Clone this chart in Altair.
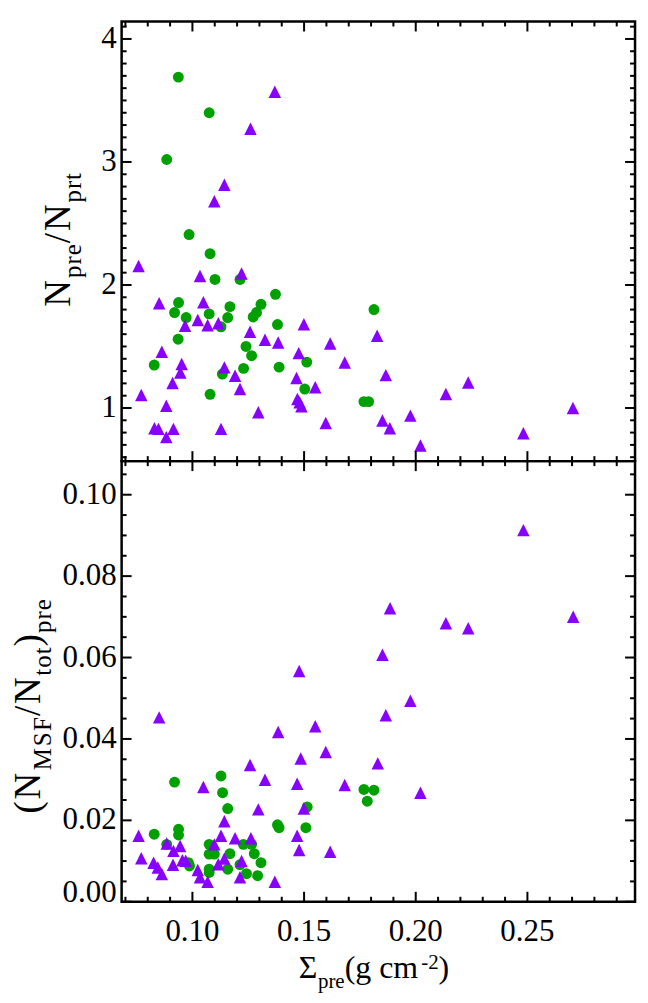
import altair as alt
import pandas as pd

FONT = "'Liberation Serif', 'Times New Roman', 'Nimbus Roman', 'DejaVu Serif', serif"
GREEN = "#00a000"
PURPLE = "#8800ff"

# ---------------- data ----------------
top_circle_x = [0.0937, 0.1075, 0.0885, 0.0985, 0.1079, 0.1101, 0.1213, 0.1372, 0.0938, 0.0920,
                0.0972, 0.1075, 0.1168, 0.1158, 0.1128, 0.1307, 0.1287, 0.1272, 0.1381, 0.0936,
                0.1240, 0.1265, 0.0829, 0.1134, 0.1229, 0.1388, 0.1512, 0.1079, 0.1503, 0.1768,
                0.1789, 0.1813]
top_circle_y = [3.69, 3.40, 3.02, 2.41, 2.254, 2.045, 2.045, 1.924, 1.857, 1.776,
                1.735, 1.765, 1.824, 1.735, 1.66, 1.843, 1.776, 1.74, 1.678, 1.559,
                1.50, 1.425, 1.349, 1.276, 1.322, 1.332, 1.373, 1.111, 1.154, 1.052,
                1.052, 1.80]

top_tri_x = [0.1369, 0.1260, 0.1143, 0.1098, 0.0759, 0.1034, 0.1220, 0.0851, 0.1049, 0.0967,
             0.1024, 0.1068, 0.1116, 0.1258, 0.1325, 0.1384, 0.1499, 0.1617, 0.1476, 0.0863,
             0.0952, 0.0946, 0.0911, 0.1143, 0.1191, 0.1213, 0.1682, 0.1466, 0.1550, 0.1470,
             0.1480, 0.1488, 0.0771, 0.0883, 0.1295, 0.0830, 0.0848, 0.0883, 0.0915, 0.1128,
             0.1597, 0.1827, 0.1866, 0.1851, 0.1884, 0.1976, 0.2021, 0.2135, 0.2235, 0.2482,
             0.2704]
top_tri_y = [3.57, 3.27, 2.815, 2.68, 2.154, 2.073, 2.094, 1.851, 1.86, 1.668,
             1.716, 1.673, 1.689, 1.619, 1.554, 1.532, 1.681, 1.524, 1.446, 1.457,
             1.357, 1.289, 1.203, 1.33, 1.262, 1.154, 1.37, 1.243, 1.168, 1.073,
             1.046, 1.014, 1.105, 1.019, 0.965, 0.835, 0.83, 0.763, 0.83, 0.83,
             0.878, 1.587, 1.267, 0.898, 0.835, 0.938, 0.695, 1.113, 1.208, 0.795,
             1.0]

bot_circle_x = [0.0920, 0.1128, 0.1135, 0.1158, 0.1381, 0.1388, 0.1508, 0.1514, 0.1768, 0.1813,
                0.1783, 0.0829, 0.0938, 0.0938, 0.0885, 0.0982, 0.0987, 0.1075, 0.1075, 0.1098,
                0.1075, 0.1075, 0.1168, 0.1158, 0.1228, 0.1265, 0.1277, 0.1213, 0.1242, 0.1292,
                0.1307]
bot_circle_y = [0.0294, 0.0309, 0.0268, 0.0229, 0.0189, 0.0182, 0.0182, 0.0233, 0.0276, 0.0274,
                0.0247, 0.0166, 0.0178, 0.0164, 0.0141, 0.0096, 0.0088, 0.0141, 0.0117, 0.0117,
                0.0080, 0.0072, 0.0118, 0.0080, 0.0141, 0.0141, 0.0118, 0.0091, 0.0069, 0.0064,
                0.0096]

bot_tri_x = [0.0851, 0.1384, 0.1550, 0.1485, 0.1597, 0.1258, 0.1325, 0.1469, 0.1682, 0.1049,
             0.1295, 0.1499, 0.1143, 0.1469, 0.1478, 0.1617, 0.0759, 0.0771, 0.0826, 0.0845,
             0.0863, 0.0885, 0.0915, 0.0945, 0.0913, 0.0955, 0.0970, 0.1024, 0.1034, 0.1068,
             0.1098, 0.1128, 0.1116, 0.1143, 0.1191, 0.1220, 0.1213, 0.1262, 0.1369, 0.1478,
             0.2482, 0.1885, 0.2705, 0.2135, 0.2235, 0.1851, 0.1976, 0.1866, 0.1830, 0.2021]
bot_tri_y = [0.0453, 0.0417, 0.0431, 0.0352, 0.0368, 0.0336, 0.0300, 0.0290, 0.0287, 0.0282,
             0.0227, 0.0229, 0.0198, 0.0162, 0.0127, 0.0123, 0.0162, 0.0107, 0.0096, 0.0084,
             0.0068, 0.0143, 0.0125, 0.0137, 0.0091, 0.0102, 0.0101, 0.0078, 0.0060, 0.0049,
             0.0141, 0.0162, 0.0092, 0.0106, 0.0156, 0.0100, 0.0060, 0.0156, 0.0049, 0.0567,
             0.0913, 0.0721, 0.0700, 0.0684, 0.0672, 0.0607, 0.0494, 0.0458, 0.0340, 0.0268]

# axis ranges, tick values and tick labels
X_DOMAIN = [0.0683, 0.2982]
TOP_Y_DOMAIN = [0.568, 4.142]
BOT_Y_DOMAIN = [0.0, 0.10825]
x_major = [0.10, 0.15, 0.20, 0.25]
x_labels = ["0.10", "0.15", "0.20", "0.25"]
x_minor = [v for v in [round(0.07 + 0.01 * i, 2) for i in range(23)] if v not in x_major]
top_y_major = [1, 2, 3, 4]
top_y_labels = ["1", "2", "3", "4"]
top_y_minor = [v for v in [round(0.6 + 0.1 * i, 1) for i in range(36)] if v not in top_y_major]
bot_y_major = [0.0, 0.02, 0.04, 0.06, 0.08, 0.10]
bot_y_labels = ["0.00", "0.02", "0.04", "0.06", "0.08", "0.10"]
bot_y_minor = [v for v in [round(0.005 * i, 3) for i in range(1, 22)] if v not in bot_y_major]

W = 515
H_TOP = 441
H_BOT = 442
MAJ = 10
MIN = 5
BIG = 32
SMALL = 21
YBIG = 37
YSMALL = 25
LABEL = 31

EM = {"N": 0.722, "p": 0.5, "r": 0.333, "e": 0.444, "t": 0.278, "/": 0.278, "(": 0.333,
      ")": 0.333, "M": 0.889, "S": 0.556, "F": 0.556, "o": 0.5, "Σ": 0.6, "g": 0.5,
      " ": 0.25, "c": 0.444, "m": 0.778, "-": 0.333, "2": 0.5}


def seg_width(s, fs):
    return sum(EM.get(c, 0.5) for c in s) * fs


def text_layer(txt, fs, x0, y0, dx, dy, angle):
    mk = dict(align="left", baseline="alphabetic", font=FONT, fontSize=fs,
              color="black", dx=dx, dy=dy)
    if angle:
        mk["angle"] = angle
    return alt.Chart(pd.DataFrame({"t": [txt]})).mark_text(**mk).encode(
        text="t:N", x=alt.value(x0), y=alt.value(y0))


def title_layers(segments, x0, y0, angle, stretch=1.0, center=None):
    """segments: (text, fontsize, baseline shift, extra gap before)."""
    total = sum(seg_width(t, fs) + g for t, fs, _, g in segments) * stretch
    if center is not None:
        y0 = center + total / 2.0
    layers = []
    off = 0.0
    for txt, fs, shift, gap in segments:
        off += gap
        if stretch == 1.0:
            layers.append(text_layer(txt, fs, x0, y0, off, shift, angle))
            off += seg_width(txt, fs)
        else:
            for ch in txt:
                w = seg_width(ch, fs)
                left = (off + w / 2.0) * stretch - w / 2.0
                layers.append(text_layer(ch, fs, x0, y0, left, shift, angle))
                off += w
    return layers


xs = alt.Scale(domain=X_DOMAIN, nice=False, zero=False)


def panel(cx, cy, tx, ty, ydom, ymaj, ylab, ymin, H, flush_first, with_x_labels, extra):
    ys = alt.Scale(domain=ydom, nice=False, zero=False)
    circ = alt.Chart(pd.DataFrame({"x": cx, "y": cy})).mark_point(
        shape="circle", filled=True, size=120, color=GREEN, opacity=1, strokeWidth=0
    ).encode(x=alt.X("x:Q", scale=xs, axis=None), y=alt.Y("y:Q", scale=ys, axis=None))
    tri = alt.Chart(pd.DataFrame({"x": tx, "y": ty})).mark_point(
        shape="M0,-1L-1,1L1,1Z", filled=True, size=156, color=PURPLE, opacity=1, strokeWidth=0
    ).encode(x=alt.X("x:Q", scale=xs, axis=None), y=alt.Y("y:Q", scale=ys, axis=None))
    layers = [circ, tri]
    # inward ticks on all four sides
    for vals, L in ((ymaj, MAJ), (ymin, MIN)):
        base = alt.Chart(pd.DataFrame({"v": vals})).mark_rule(color="black", strokeWidth=2)
        layers.append(base.encode(y=alt.Y("v:Q", scale=ys, axis=None), x=alt.value(0), x2=alt.value(L)))
        layers.append(base.encode(y=alt.Y("v:Q", scale=ys, axis=None), x=alt.value(W), x2=alt.value(W - L)))
    for vals, L in ((x_major, MAJ), (x_minor, MIN)):
        base = alt.Chart(pd.DataFrame({"v": vals})).mark_rule(color="black", strokeWidth=2)
        layers.append(base.encode(x=alt.X("v:Q", scale=xs, axis=None), y=alt.value(H), y2=alt.value(H - L)))
        layers.append(base.encode(x=alt.X("v:Q", scale=xs, axis=None), y=alt.value(0), y2=alt.value(L)))
    # y tick labels
    lab = pd.DataFrame({"v": ymaj, "t": ylab})
    if flush_first:
        first, rest = lab.iloc[:1], lab.iloc[1:]
        layers.append(alt.Chart(first).mark_text(
            align="right", baseline="alphabetic", font=FONT, fontSize=LABEL, color="black", dx=-5
        ).encode(y=alt.Y("v:Q", scale=ys, axis=None), x=alt.value(0), text="t:N"))
    else:
        rest = lab
    layers.append(alt.Chart(rest).mark_text(
        align="right", baseline="middle", font=FONT, fontSize=LABEL, color="black", dx=-5
    ).encode(y=alt.Y("v:Q", scale=ys, axis=None), x=alt.value(0), text="t:N"))
    if with_x_labels:
        layers.append(alt.Chart(pd.DataFrame({"v": x_major, "t": x_labels})).mark_text(
            align="center", baseline="alphabetic", font=FONT, fontSize=LABEL, color="black"
        ).encode(x=alt.X("v:Q", scale=xs, axis=None), y=alt.value(H + 39), text="t:N"))
    layers += extra
    return alt.layer(*layers).properties(width=W, height=H)


top_title = title_layers([("N", YBIG, 0, 0), ("pre", YSMALL, 11, 0), ("/N", YBIG, 0, 0),
                          ("prt", YSMALL, 11, 0)],
                         -52, None, 270, stretch=1.1, center=219.5)
bot_title = title_layers([("(", YBIG, 0, 0), ("N", YBIG, 0, 0), ("MSF", YSMALL, 11, 0),
                          ("/N", YBIG, 0, 0), ("tot", YSMALL, 11, 0), (")", YBIG, 0, 0),
                          ("pre", YSMALL, 11, 0)],
                         -82, None, 270, stretch=1.1, center=246)
x_title = title_layers([("Σ", BIG, 0, 0), ("pre", SMALL, 10, 0), ("(g cm", BIG, 0, 0),
                        ("-2", SMALL, -9, 3), (")", BIG, 0, 0)], 177.7, 518.5, 0)

top = panel(top_circle_x, top_circle_y, top_tri_x, top_tri_y, TOP_Y_DOMAIN, top_y_major,
            top_y_labels, top_y_minor, H_TOP, False, False, top_title)
bottom = panel(bot_circle_x, bot_circle_y, bot_tri_x, bot_tri_y, BOT_Y_DOMAIN, bot_y_major,
               bot_y_labels, bot_y_minor, H_BOT, True, True, bot_title + x_title)

chart = alt.vconcat(top, bottom, spacing=0, bounds="flush").properties(
    padding={"left": 8, "top": 17, "right": 10, "bottom": 10},
    background="white",
).configure(font=FONT).configure_view(stroke="black", strokeWidth=2.5)

chart.save("out.html", embed_options={"renderer": "svg", "actions": False})
